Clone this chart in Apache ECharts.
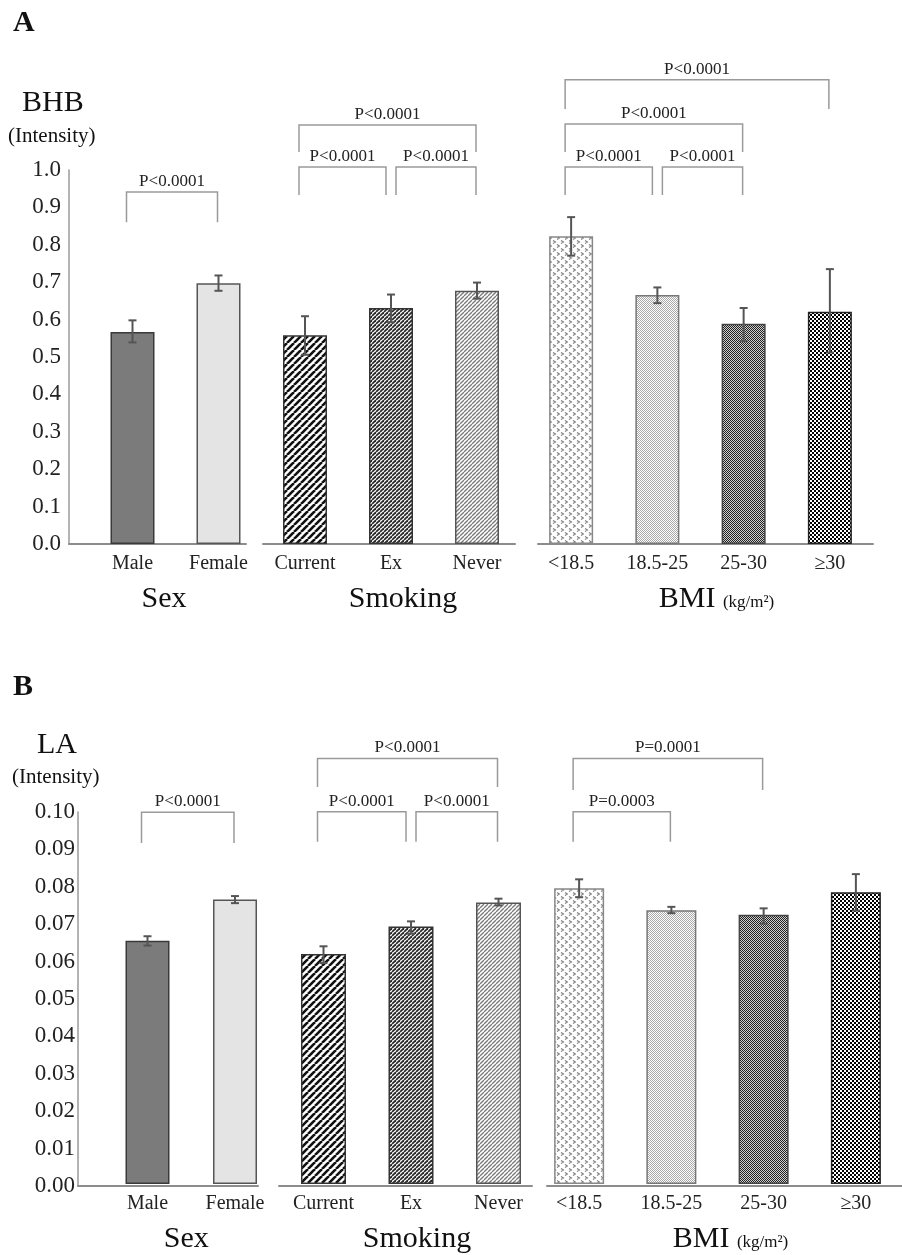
<!DOCTYPE html>
<html>
<head>
<meta charset="utf-8">
<style>
  html, body { margin: 0; padding: 0; background: #fff; }
  #chart { width: 902px; height: 1255px; }
</style>
<script src="https://cdn.jsdelivr.net/npm/echarts@6/dist/echarts.min.js"></script>
</head>
<body>
<div id="chart"></div>
<script>
// categories
var sexCats = ['Male', 'Female'];
var smokeCats = ['Current', 'Ex', 'Never'];
var bmiCats = ['<18.5', '18.5-25', '25-30', '≥30'];

// A: BHB (intensity), mean and error bar ends
var bhbSex = [0.567, 0.697];
var bhbSexLo = [0.539, 0.677];
var bhbSexHi = [0.598, 0.718];
var bhbSmoke = [0.558, 0.631, 0.677];
var bhbSmokeLo = [0.506, 0.593, 0.656];
var bhbSmokeHi = [0.609, 0.667, 0.699];
var bhbBmi = [0.823, 0.666, 0.589, 0.621];
var bhbBmiLo = [0.771, 0.644, 0.542, 0.512];
var bhbBmiHi = [0.874, 0.686, 0.631, 0.735];

// B: LA (intensity)
var laSex = [0.0654, 0.0765];
var laSexLo = [0.0641, 0.0755];
var laSexHi = [0.0666, 0.0774];
var laSmoke = [0.0618, 0.0692, 0.0757];
var laSmokeLo = [0.0594, 0.0673, 0.0749];
var laSmokeHi = [0.0639, 0.0706, 0.0767];
var laBmi = [0.0795, 0.0736, 0.0724, 0.0784];
var laBmiLo = [0.0771, 0.0728, 0.0700, 0.0735];
var laBmiHi = [0.0819, 0.0745, 0.0741, 0.0833];

// significance brackets: [from, to, line level, leg end, text]
var bhbSexP = [[0, 1, 0.941, 0.860, 'P<0.0001']];
var bhbSmokeP = [[0, 1, 1.008, 0.933, 'P<0.0001'], [1, 2, 1.008, 0.933, 'P<0.0001'], [0, 2, 1.120, 1.048, 'P<0.0001']];
var bhbBmiP = [[0, 1, 1.008, 0.933, 'P<0.0001'], [1, 2, 1.008, 0.933, 'P<0.0001'], [0, 2, 1.123, 1.048, 'P<0.0001'], [0, 3, 1.241, 1.163, 'P<0.0001']];
var laSexP = [[0, 1, 0.0999, 0.0917, 'P<0.0001']];
var laSmokeP = [[0, 1, 0.1001, 0.0920, 'P<0.0001'], [1, 2, 0.1001, 0.0920, 'P<0.0001'], [0, 2, 0.1144, 0.1067, 'P<0.0001']];
var laBmiP = [[0, 1, 0.1001, 0.0920, 'P=0.0003'], [0, 2, 0.1144, 0.1059, 'P=0.0001']];

// y scales
var bhbMax = 1.0, bhbStep = 0.1;
var laMax = 0.10, laStep = 0.01;

var SERIF = 'Liberation Serif';

// ---- fill patterns ----
function tile(w, h, draw) {
  var c = document.createElement('canvas');
  c.width = w; c.height = h;
  var g = c.getContext('2d');
  draw(g, w, h);
  return { image: c, repeat: 'repeat' };
}
function stripes(p, lw, color) {
  return tile(p, p, function (g) {
    g.fillStyle = '#fff'; g.fillRect(0, 0, p, p);
    g.strokeStyle = color; g.lineWidth = lw;
    for (var k = -1; k <= 1; k++) {
      g.beginPath(); g.moveTo(k * p, p); g.lineTo(k * p + p, 0); g.stroke();
    }
  });
}
function checker(cell, a, b) {
  return tile(cell * 2, cell * 2, function (g) {
    g.fillStyle = b; g.fillRect(0, 0, cell * 2, cell * 2);
    g.fillStyle = a; g.fillRect(0, 0, cell, cell); g.fillRect(cell, cell, cell, cell);
  });
}
var chevrons = tile(8, 8, function (g) {
  g.fillStyle = '#fff'; g.fillRect(0, 0, 8, 8);
  g.strokeStyle = '#7d7d7d'; g.lineWidth = 1.1;
  g.beginPath(); g.moveTo(1, 0.5); g.lineTo(3.5, 2); g.lineTo(1, 3.5); g.stroke();
  g.beginPath(); g.moveTo(5, 4.5); g.lineTo(7.5, 6); g.lineTo(5, 7.5); g.stroke();
});

var sexStyles = [
  { color: '#7b7b7b', borderColor: '#3a3a3a' },
  { color: '#e4e4e4', borderColor: '#555' }
];
var smokeStyles = [
  { color: stripes(7, 2.6, '#111'), borderColor: '#333' },
  { color: stripes(4, 1.8, '#2a2a2a'), borderColor: '#333' },
  { color: stripes(4, 1.3, '#7a7a7a'), borderColor: '#555' }
];
var bmiStyles = [
  { color: chevrons, borderColor: '#888' },
  { color: checker(1, '#a8a8a8', '#fff'), borderColor: '#777' },
  { color: checker(1, '#222', '#cfcfcf'), borderColor: '#444' },
  { color: checker(2, '#000', '#fff'), borderColor: '#222' }
];

// ---- renderers ----
function errorRender(params, api) {
  var x = api.value(0);
  var hi = api.coord([x, api.value(2)]);
  var lo = api.coord([x, api.value(1)]);
  var cap = 4;
  var st = { stroke: '#555', lineWidth: 2 };
  return {
    type: 'group',
    children: [
      { type: 'line', shape: { x1: hi[0], y1: hi[1], x2: lo[0], y2: lo[1] }, style: st },
      { type: 'line', shape: { x1: hi[0] - cap, y1: hi[1], x2: hi[0] + cap, y2: hi[1] }, style: st },
      { type: 'line', shape: { x1: lo[0] - cap, y1: lo[1], x2: lo[0] + cap, y2: lo[1] }, style: st }
    ]
  };
}

function bracketRender(list) {
  return function (params, api) {
    var b = list[params.dataIndex];
    var sharedStart = list.some(function (o) { return o !== b && o[1] === b[0] && o[2] === b[2]; });
    var sharedEnd = list.some(function (o) { return o !== b && o[0] === b[1] && o[2] === b[2]; });
    var p1 = api.coord([b[0], b[2]]);
    var p2 = api.coord([b[1], b[2]]);
    var yEnd = api.coord([b[0], b[3]])[1];
    var x1 = p1[0] + (sharedStart ? 5 : -6);
    var x2 = p2[0] + (sharedEnd ? -5 : -1);
    return {
      type: 'group',
      children: [
        { type: 'polyline', shape: { points: [[x1, yEnd], [x1, p1[1]], [x2, p1[1]], [x2, yEnd]] },
          style: { stroke: '#9a9a9a', lineWidth: 1.5, fill: null } },
        { type: 'text', x: (x1 + x2) / 2, y: p1[1] - 2,
          style: { text: b[4], fill: '#222', fontSize: 17, fontFamily: SERIF, align: 'center', verticalAlign: 'bottom' } }
      ]
    };
  };
}

// ---- layout ----
var grids = [], xAxes = [], yAxes = [], series = [];

function addPanel(p) {
  p.groups.forEach(function (grp, gi) {
    // grid that carries the visible baseline (and y axis for the first group)
    var ai = grids.length;
    grids.push({ left: grp.lineLeft, width: grp.lineWidth, top: p.top, height: p.height });
    xAxes.push({ gridIndex: ai, type: 'value', min: 0, max: 1,
      axisLine: { show: true, lineStyle: { color: '#8c8c8c', width: 2 } },
      axisTick: { show: false }, axisLabel: { show: false }, splitLine: { show: false } });
    yAxes.push({ gridIndex: ai, type: 'value', min: 0, max: p.max, interval: p.step,
      show: gi === 0,
      axisLine: { show: true, lineStyle: { color: '#9a9a9a', width: 1.5 } },
      axisTick: { show: false }, splitLine: { show: false },
      axisLabel: { margin: p.labelMargin, color: '#222', fontFamily: SERIF, fontSize: 23,
        formatter: function (v) { return v.toFixed(p.decimals); } } });

    // grid with the bars
    var bi = grids.length;
    grids.push({ left: grp.barLeft, width: grp.barWidthAll, top: p.top, height: p.height });
    xAxes.push({ gridIndex: bi, type: 'category', data: grp.cats,
      name: grp.title, nameLocation: 'middle', nameGap: 40,
      nameTextStyle: { fontFamily: SERIF, fontSize: 30, color: '#111', padding: grp.titlePad,
        rich: { a: { fontFamily: SERIF, fontSize: 30, color: '#111', verticalAlign: 'bottom' },
                b: { fontFamily: SERIF, fontSize: 17, color: '#111', verticalAlign: 'bottom', padding: [0, 0, 3, 0] } } },
      axisLine: { show: false }, axisTick: { show: false },
      axisLabel: { margin: 10, color: '#222', fontFamily: SERIF, fontSize: 20, interval: 0 } });
    yAxes.push({ gridIndex: bi, type: 'value', min: 0, max: p.max, show: false, splitLine: { show: false } });

    series.push({
      type: 'bar', xAxisIndex: bi, yAxisIndex: bi, barWidth: grp.bw,
      data: grp.vals.map(function (v, i) {
        return { value: v, itemStyle: { color: grp.styles[i].color, borderColor: grp.styles[i].borderColor, borderWidth: 1.5 } };
      })
    });
    series.push({
      type: 'custom', xAxisIndex: bi, yAxisIndex: bi, renderItem: errorRender, z: 5,
      data: grp.vals.map(function (v, i) { return [i, grp.lo[i], grp.hi[i]]; })
    });
    series.push({
      type: 'custom', xAxisIndex: bi, yAxisIndex: bi, renderItem: bracketRender(grp.p), z: 5, clip: false,
      data: grp.p.map(function (b) { return [b[0], b[2]]; })
    });
  });
}

addPanel({
  top: 170, height: 374, max: bhbMax, step: bhbStep, decimals: 1, labelMargin: 8,
  groups: [
    { cats: sexCats, vals: bhbSex, lo: bhbSexLo, hi: bhbSexHi, p: bhbSexP, styles: sexStyles, title: 'Sex',
      titlePad: [0, 23, 0, 0], lineLeft: 69, lineWidth: 177, barLeft: 89.5, barWidthAll: 172, bw: 44 },
    { cats: smokeCats, vals: bhbSmoke, lo: bhbSmokeLo, hi: bhbSmokeHi, p: bhbSmokeP, styles: smokeStyles, title: 'Smoking',
      titlePad: [0, 0, 0, 24], lineLeft: 263, lineWidth: 252, barLeft: 262, barWidthAll: 258, bw: 44 },
    { cats: bmiCats, vals: bhbBmi, lo: bhbBmiLo, hi: bhbBmiHi, p: bhbBmiP, styles: bmiStyles, title: '{a|BMI} {b|(kg/m²)}',
      titlePad: [0, 0, 0, 32], lineLeft: 538, lineWidth: 335, barLeft: 528, barWidthAll: 345, bw: 44 }
  ]
});

addPanel({
  top: 812, height: 374, max: laMax, step: laStep, decimals: 2, labelMargin: 3,
  groups: [
    { cats: sexCats, vals: laSex, lo: laSexLo, hi: laSexHi, p: laSexP, styles: sexStyles, title: 'Sex',
      titlePad: [0, 10, 0, 0], lineLeft: 78, lineWidth: 180, barLeft: 103.75, barWidthAll: 175, bw: 44 },
    { cats: smokeCats, vals: laSmoke, lo: laSmokeLo, hi: laSmokeHi, p: laSmokeP, styles: smokeStyles, title: 'Smoking',
      titlePad: [0, 0, 0, 12], lineLeft: 279, lineWidth: 253, barLeft: 279.75, barWidthAll: 262.5, bw: 45 },
    { cats: bmiCats, vals: laBmi, lo: laBmiLo, hi: laBmiHi, p: laBmiP, styles: bmiStyles, title: '{a|BMI} {b|(kg/m²)}',
      titlePad: [0, 0, 0, 26], lineLeft: 547, lineWidth: 355, barLeft: 533, barWidthAll: 392, bw: 50 }
  ]
});

function label(text, left, top, size, bold) {
  return { text: text, left: left, top: top, padding: 0,
    textStyle: { fontFamily: SERIF, fontSize: size, fontWeight: bold ? 'bold' : 'normal', color: '#111' } };
}

var chart = echarts.init(document.getElementById('chart'));
chart.setOption({
  animation: false,
  backgroundColor: '#fff',
  title: [
    label('A', 13, 8, 30, true),
    label('BHB', 22, 88, 30),
    label('(Intensity)', 8, 126, 21),
    label('B', 13, 672, 30, true),
    label('LA', 37, 730, 30),
    label('(Intensity)', 12, 767, 21)
  ],
  grid: grids,
  xAxis: xAxes,
  yAxis: yAxes,
  series: series
});
</script>
</body>
</html>
